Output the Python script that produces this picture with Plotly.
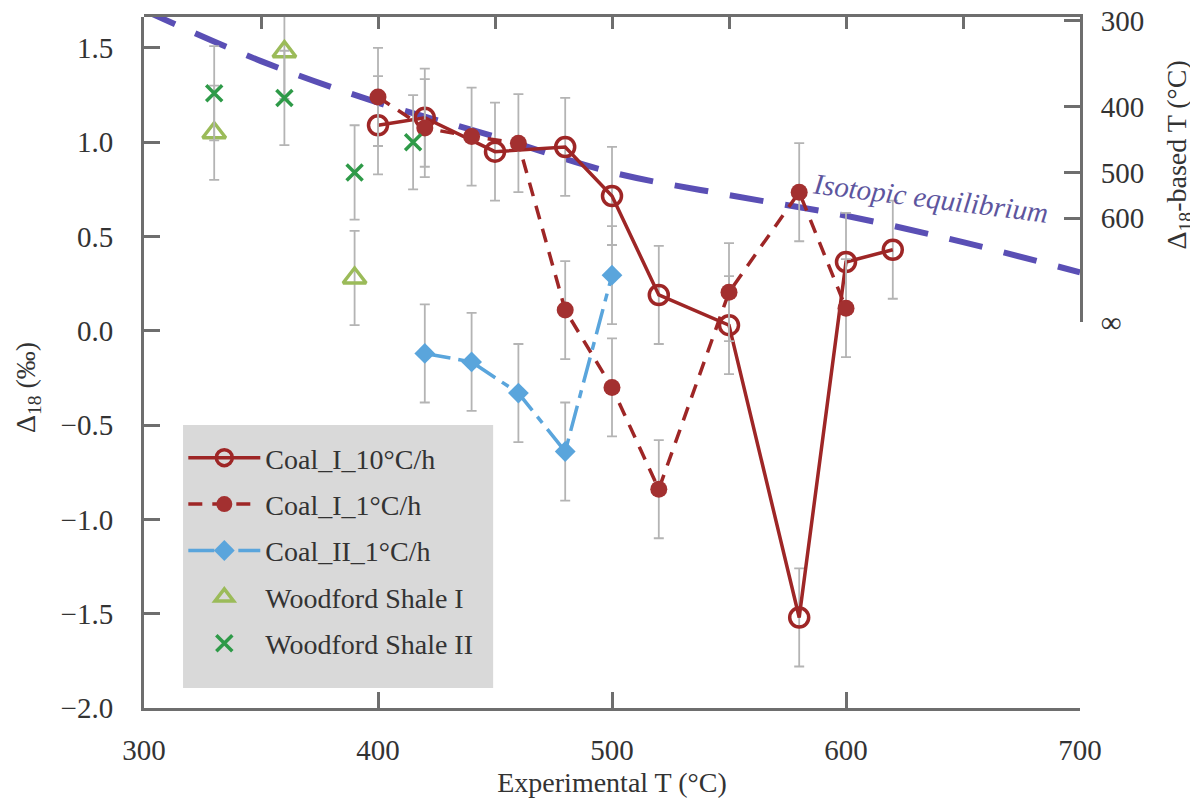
import plotly.graph_objects as go

# ---------------- data ----------------
coal1_10_T = [400, 420, 450, 480, 500, 520, 550, 580, 600, 620]
coal1_10_D = [1.09, 1.13, 0.95, 0.975, 0.715, 0.19, 0.03, -1.52, 0.365, 0.43]

coal1_1_T = [400, 420, 440, 460, 480, 500, 520, 550, 580, 600]
coal1_1_D = [1.24, 1.075, 1.03, 0.995, 0.11, -0.30, -0.84, 0.205, 0.735, 0.12]

coal2_1_T = [420, 440, 460, 480, 500]
coal2_1_D = [-0.12, -0.165, -0.33, -0.64, 0.295]

wood1_T = [330, 360, 390]
wood1_D = [1.05, 1.48, 0.28]

wood2_T = [330, 360, 390, 415]
wood2_D = [1.26, 1.235, 0.84, 1.0]

coal_err = 0.26
shale_err = 0.25

equil_T = [300, 350, 400, 450, 500, 550, 600, 650, 700]
equil_D = [1.70, 1.43, 1.21, 1.03, 0.84, 0.72, 0.61, 0.47, 0.31]

right_tick_D = [1.645, 1.19, 0.84, 0.60, 0.05]
right_tick_text = ["300", "400", "500", "600", "∞"]

y_ticks = [-2.0, -1.5, -1.0, -0.5, 0.0, 0.5, 1.0, 1.5]
x_ticks = [300, 400, 500, 600, 700]

# ---------------- style ----------------
SERIF = "Liberation Serif"
RED = "#9e2626"
BLUE = "#5aa5dc"
OLIVE = "#9bbb59"
GREEN = "#2e9a48"
PURPLE = "#5a4fb5"
ERR = "#b4b4b4"
AX = "#6e6e6e"
TXT = "#333333"
TICKF = dict(family=SERIF, size=29, color=TXT)

fig = go.Figure()

fig.add_trace(go.Scatter(
    x=equil_T, y=equil_D, mode="lines", line_shape="spline",
    line=dict(color=PURPLE, width=6, dash="34px,22px"),
    showlegend=False, hoverinfo="skip"))

fig.add_trace(go.Scatter(
    x=coal1_10_T, y=coal1_10_D, mode="lines+markers", name="Coal_I_10°C/h",
    legendgroup="a",
    line=dict(color=RED, width=3.5),
    marker=dict(symbol="circle-open", size=19, color=RED, line=dict(width=3.5, color=RED)),
    error_y=dict(type="constant", value=coal_err, color=ERR, thickness=1.8, width=5)))

fig.add_trace(go.Scatter(
    x=coal1_1_T, y=coal1_1_D, mode="lines+markers", name="Coal_I_1°C/h",
    legendgroup="b",
    line=dict(color=RED, width=3.5, dash="14px,10px"),
    marker=dict(symbol="circle", size=17, color="#a33030"),
    error_y=dict(type="constant", value=coal_err, color=ERR, thickness=1.8, width=5)))

fig.add_trace(go.Scatter(
    x=coal2_1_T, y=coal2_1_D, mode="lines+markers", name="Coal_II_1°C/h",
    legendgroup="c",
    line=dict(color=BLUE, width=3.5, dash="26px,8px,8px,8px"),
    marker=dict(symbol="diamond", size=16, color=BLUE),
    error_y=dict(type="constant", value=coal_err, color=ERR, thickness=1.8, width=5)))

fig.add_trace(go.Scatter(
    x=wood1_T, y=wood1_D, mode="markers", name="Woodford Shale I",
    legendgroup="d",
    marker=dict(symbol="triangle-up-open", size=20, color=OLIVE, line=dict(width=3.5, color=OLIVE)),
    error_y=dict(type="constant", value=shale_err, color=ERR, thickness=1.8, width=5)))

fig.add_trace(go.Scatter(
    x=wood2_T, y=wood2_D, mode="markers", name="Woodford Shale II",
    legendgroup="e",
    marker=dict(symbol="x-thin-open", size=16, color=GREEN, line=dict(width=3.5, color=GREEN)),
    error_y=dict(type="constant", value=shale_err, color=ERR, thickness=1.8, width=5)))

ymin, ymax = -2.0, 1.664

fig.update_layout(
    width=1198, height=811,
    margin=dict(l=136, r=126, t=9, b=111, autoexpand=False),
    paper_bgcolor="white", plot_bgcolor="rgba(0,0,0,0)",
    font=dict(family=SERIF, size=26, color=TXT),
    xaxis=dict(range=[300, 700], tickvals=x_ticks, ticks="inside", ticklen=16,
               tickwidth=2.5, tickcolor=AX, showline=True, linecolor=AX, linewidth=3,
               showgrid=False, zeroline=False, ticklabelstandoff=14, automargin=False,
               tickfont=TICKF,
               title=dict(text="Experimental T (°C)", standoff=8,
                          font=dict(family=SERIF, size=28, color=TXT))),
    xaxis2=dict(range=[300, 700], overlaying="x", side="top", anchor="y",
                dtick=50, tick0=300, ticks="inside", ticklen=12, tickwidth=2.5,
                tickcolor=AX, showline=True, linecolor=AX, linewidth=3, automargin=False,
                showticklabels=False, showgrid=False, zeroline=False),
    yaxis=dict(range=[ymin, ymax], tickvals=y_ticks, tickformat=".1f",
               ticks="inside", ticklen=16, tickwidth=2.5, tickcolor=AX,
               showline=True, linecolor=AX, linewidth=3, showgrid=False,
               zeroline=False, ticklabelstandoff=22, automargin=False,
               tickfont=TICKF),
    yaxis2=dict(range=[right_tick_D[-1], ymax], domain=[(708 - 322) / 691, 1.0],
                anchor="x", side="right", tickvals=right_tick_D,
                ticktext=right_tick_text, ticks="inside", ticklen=16,
                tickwidth=2.5, tickcolor=AX, showline=True, linecolor=AX,
                linewidth=3, showgrid=False, zeroline=False, ticklabelstandoff=12,
                automargin=False, ticklabeloverflow="allow", tickfont=TICKF),
    legend=dict(x=0.042, y=0.398, xanchor="left", yanchor="top",
                bgcolor="rgba(0,0,0,0)", borderwidth=0,
                font=dict(family=SERIF, size=28, color=TXT),
                tracegroupgap=7, itemwidth=72, traceorder="grouped",
                entrywidth=220, entrywidthmode="pixels"),
    showlegend=True,
    shapes=[dict(type="rect", xref="paper", yref="paper",
                 x0=0.0417, x1=0.373, y0=0.029, y1=0.4095,
                 fillcolor="#d9d9d9", line=dict(width=0), layer="below")],
)

# invisible trace that activates the top and right axes
fig.add_trace(go.Scatter(x=[None], y=[None], xaxis="x2", yaxis="y2",
                         showlegend=False, hoverinfo="skip"))

fig.add_annotation(text="Δ<sub>18</sub> (‰)", xref="paper", yref="paper",
                   x=-0.125, y=0.463, xanchor="center", yanchor="middle",
                   textangle=-90, showarrow=False,
                   font=dict(family=SERIF, size=28, color=TXT))
fig.add_annotation(text="Δ<sub>18</sub>-based T (°C)", xref="paper", yref="paper",
                   x=1.105, y=0.80, xanchor="center", yanchor="middle",
                   textangle=-90, showarrow=False,
                   font=dict(family=SERIF, size=28, color=TXT))
fig.add_annotation(text="<i>Isotopic equilibrium</i>", x=636, y=0.705,
                   textangle=7.2, showarrow=False,
                   font=dict(family=SERIF, size=29, color="#5d559e"))

fig.write_html("out.html")
